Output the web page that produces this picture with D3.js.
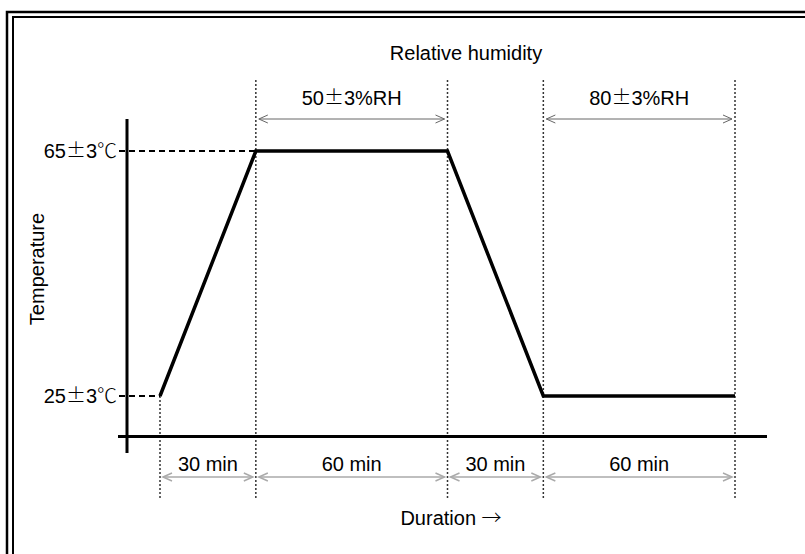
<!DOCTYPE html>
<html>
<head>
<meta charset="utf-8">
<script src="https://cdn.jsdelivr.net/npm/d3@7"></script>
<style>
  body { margin: 0; background: #fff; }
  text { font-family: "Liberation Sans", Arial, sans-serif; fill: #000; }
  .sym { font-family: "Noto Sans CJK JP", sans-serif; font-weight: 300; }
</style>
</head>
<body>
<svg id="chart" width="805" height="554"></svg>
<script>
// Chart data
const phaseLabels = ["30 min", "60 min", "30 min", "60 min"];
const phaseMinutes = [30, 60, 30, 60];
const profileTemps = [25, 65, 65, 25, 25];
const tempTicks = [65, 25];
const tempLabels = ["65±3℃", "25±3℃"];
const humidityLabels = ["50±3%RH", "80±3%RH"];
const humidityPhases = [1, 3];

// cumulative time at each phase boundary
const bounds = [0];
phaseMinutes.forEach(m => bounds.push(bounds[bounds.length - 1] + m));

const svg = d3.select("#chart");

const x = d3.scaleLinear().domain([0, 180]).range([160, 735]);
const y = d3.scaleLinear().domain([25, 65]).range([396, 151]);

// double frame
svg.append("rect").attr("x", 7).attr("y", 12).attr("width", 900).attr("height", 700)
    .attr("fill", "none").attr("stroke", "#000").attr("stroke-width", 2.5);
svg.append("rect").attr("x", 13).attr("y", 17).attr("width", 900).attr("height", 700)
    .attr("fill", "none").attr("stroke", "#000").attr("stroke-width", 2);

// split label text so that ±, ℃ and → use a wide font
function richText(sel, str) {
    str.split(/([±℃→])/).filter(s => s).forEach(part => {
        const t = sel.append("tspan").text(part);
        if (part === "±" || part === "℃" || part === "→") t.attr("class", "sym");
    });
}

// dotted phase boundaries
svg.selectAll(".bound")
    .data(bounds)
    .enter().append("line")
    .attr("class", "bound")
    .attr("x1", d => x(d)).attr("x2", d => x(d))
    .attr("y1", (d, i) => i === 0 ? y(profileTemps[0]) : 80)
    .attr("y2", 498)
    .attr("stroke", "#333").attr("stroke-width", 1.5).attr("stroke-dasharray", "2,2");

// axes
svg.append("line").attr("x1", 127).attr("x2", 127).attr("y1", 119).attr("y2", 453)
    .attr("stroke", "#000").attr("stroke-width", 3);
svg.append("line").attr("x1", 118).attr("x2", 767).attr("y1", 436.5).attr("y2", 436.5)
    .attr("stroke", "#000").attr("stroke-width", 3);

// dashed temperature guides
tempTicks.forEach((t, i) => {
    const reach = i === 0 ? bounds[1] : bounds[0];
    svg.append("line")
        .attr("x1", 119).attr("x2", x(reach))
        .attr("y1", y(t)).attr("y2", y(t))
        .attr("stroke", "#000").attr("stroke-width", 2).attr("stroke-dasharray", "6,4");
    const lab = svg.append("text")
        .attr("x", 117).attr("y", y(t) + 7)
        .attr("text-anchor", "end")
        .style("font-size", "20px");
    richText(lab, tempLabels[i]);
});

// temperature profile
svg.append("path")
    .datum(profileTemps.map((t, i) => [bounds[i], t]))
    .attr("fill", "none").attr("stroke", "#000").attr("stroke-width", 3.5)
    .attr("stroke-linejoin", "miter")
    .attr("d", d3.line().x(d => x(d[0])).y(d => y(d[1])));

// arrow helper
function arrow(x1, x2, yy, color, w) {
    const g = svg.append("g").attr("stroke", color).attr("stroke-width", w).attr("fill", "none");
    g.append("line").attr("x1", x1).attr("x2", x2).attr("y1", yy).attr("y2", yy);
    g.append("path").attr("d", `M${x1 + 9},${yy - 4}L${x1},${yy}L${x1 + 9},${yy + 4}`);
    g.append("path").attr("d", `M${x2 - 9},${yy - 4}L${x2},${yy}L${x2 - 9},${yy + 4}`);
}

// humidity spans
humidityPhases.forEach((p, i) => {
    const a = x(bounds[p]), b = x(bounds[p + 1]);
    arrow(a + 3, b - 3, 119, "#666", 1);
    const lab = svg.append("text")
        .attr("x", (a + b) / 2).attr("y", 105)
        .attr("text-anchor", "middle")
        .style("font-size", "20px");
    richText(lab, humidityLabels[i]);
});

// duration spans
phaseLabels.forEach((l, i) => {
    const a = x(bounds[i]), b = x(bounds[i + 1]);
    arrow(a + 3, b - 3, 477, "#aaa", 1.5);
    svg.append("text")
        .attr("x", (a + b) / 2).attr("y", 471)
        .attr("text-anchor", "middle")
        .style("font-size", "20px")
        .text(l);
});

// titles
svg.append("text").attr("x", 466).attr("y", 60).attr("text-anchor", "middle")
    .style("font-size", "20px").text("Relative humidity");
const dur = svg.append("text").attr("x", 451).attr("y", 525).attr("text-anchor", "middle")
    .style("font-size", "20px");
richText(dur, "Duration →");
svg.append("text")
    .attr("transform", "translate(44,269) rotate(-90)")
    .attr("text-anchor", "middle")
    .style("font-size", "20px").text("Temperature");
</script>
</body>
</html>
